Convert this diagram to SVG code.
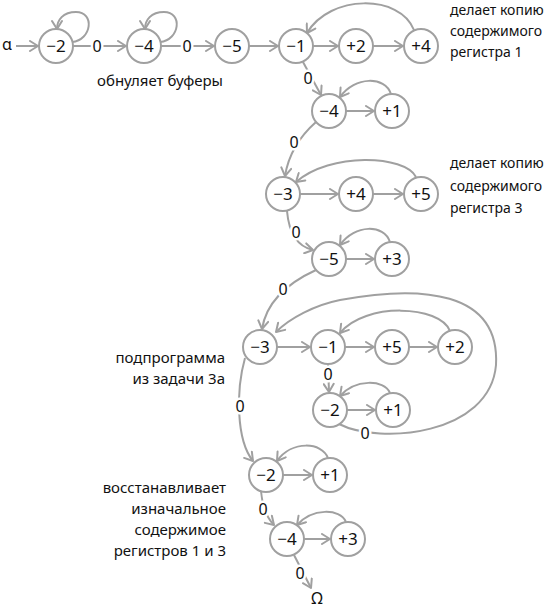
<svg xmlns="http://www.w3.org/2000/svg" width="550" height="611" viewBox="0 0 550 611">
<defs>
<style>
.n circle{fill:#fff;stroke:#a0a0a0;stroke-width:2}
.n text{font-family:"Noto Sans","DejaVu Sans",sans-serif;font-size:17px;fill:#111;text-anchor:middle}
.e path,.e line{fill:none;stroke:#a0a0a0;stroke-width:2;marker-end:url(#ah)}
.lbl{font-family:"Noto Sans","DejaVu Sans",sans-serif;font-size:16px;fill:#111;text-anchor:middle;stroke:#fff;stroke-width:5;paint-order:stroke;stroke-linejoin:round}
.t{font-family:"Noto Sans","DejaVu Sans",sans-serif;font-size:15px;fill:#111}
.r{font-size:14px}
</style>
<marker id="ah" viewBox="0 0 12 12" refX="10" refY="6" markerWidth="12" markerHeight="12" markerUnits="userSpaceOnUse" orient="auto">
<path d="M2,1 L10,6 L2,11" fill="none" stroke="#a0a0a0" stroke-width="2" stroke-linejoin="round" stroke-linecap="round"/>
</marker>
</defs>
<rect width="550" height="611" fill="#fff"/>

<g id="connectors" class="e">
<!-- row 1 -->
<line x1="16" y1="46" x2="38" y2="46"/>
<path d="M72,42 C92,40 95,12 76,12 C63,12 57,20 57,29"/>
<line x1="73" y1="46" x2="126" y2="46"/>
<path d="M160,42 C180,40 183,12 164,12 C151,12 145,20 145,29"/>
<line x1="161" y1="46" x2="214" y2="46"/>
<line x1="249" y1="46" x2="278" y2="46"/>
<line x1="313" y1="46" x2="338" y2="46"/>
<line x1="373" y1="46" x2="403" y2="46"/>
<path d="M414,30 C400,-6 330,-6 307,33"/>
<!-- row1 -> row2 -->
<line x1="303" y1="62" x2="321" y2="95"/>
<!-- row 2 -->
<line x1="346" y1="111" x2="374" y2="111"/>
<path d="M391,94 C385,76 355,76 340,97"/>
<!-- row2 -> row3 -->
<path d="M316,122 Q290,145 285,176"/>
<!-- row 3 -->
<line x1="300" y1="194" x2="338" y2="194"/>
<line x1="373" y1="194" x2="403" y2="194"/>
<path d="M416,177 C405,155 330,152 296,182"/>
<!-- row3 -> row4 -->
<path d="M287,211 Q290,245 313,250"/>
<!-- row 4 -->
<line x1="346" y1="259" x2="374" y2="259"/>
<path d="M390,242 C384,224 355,224 340,245"/>
<!-- row4 -> row5 -->
<path d="M316,270 Q268,292 262,329"/>
<!-- row 5 -->
<line x1="277" y1="347" x2="310" y2="347"/>
<line x1="345" y1="347" x2="374" y2="347"/>
<line x1="409" y1="347" x2="437" y2="347"/>
<path d="M450,331 C440,305 365,302 340,333"/>
<path d="M339,424 C380,445 490,435 496,365 C500,290 420,285 340,300 C315,305 290,318 276,332"/>
<line x1="328" y1="364" x2="329" y2="392"/>
<!-- row 6 -->
<line x1="347" y1="410" x2="375" y2="410"/>
<path d="M390,393 C384,379 355,379 340,396"/>
<!-- row5 -> row7 -->
<path d="M245,358 C236,390 236,440 253,461"/>
<!-- row 7 -->
<line x1="283" y1="475" x2="312" y2="475"/>
<path d="M328,458 C322,442 292,440 277,461"/>
<!-- row7 -> row8 -->
<path d="M261,491 Q263,514 274,525"/>
<!-- row 8 -->
<line x1="304" y1="539" x2="330" y2="539"/>
<path d="M346,522 C340,508 312,508 297,525"/>
<line x1="294" y1="555" x2="311" y2="588"/>
</g>

<g id="edge-labels">
<text class="lbl" x="97" y="52">0</text>
<text class="lbl" x="187" y="52">0</text>
<text class="lbl" x="308" y="84">0</text>
<text class="lbl" x="294" y="148">0</text>
<text class="lbl" x="296" y="238">0</text>
<text class="lbl" x="283" y="295">0</text>
<text class="lbl" x="328" y="380">0</text>
<text class="lbl" x="240" y="412">0</text>
<text class="lbl" x="365" y="439">0</text>
<text class="lbl" x="263" y="515">0</text>
<text class="lbl" x="300" y="579">0</text>
</g>

<g id="n1" class="n"><circle cx="56" cy="46" r="17"/><text x="56" y="52">−2</text></g>
<g id="n2" class="n"><circle cx="144" cy="46" r="17"/><text x="144" y="52">−4</text></g>
<g id="n3" class="n"><circle cx="232" cy="46" r="17"/><text x="232" y="52">−5</text></g>
<g id="n4" class="n"><circle cx="296" cy="46" r="17"/><text x="296" y="52">−1</text></g>
<g id="n5" class="n"><circle cx="356" cy="46" r="17"/><text x="356" y="52">+2</text></g>
<g id="n6" class="n"><circle cx="421" cy="46" r="17"/><text x="421" y="52">+4</text></g>
<g id="n7" class="n"><circle cx="329" cy="111" r="17"/><text x="329" y="117">−4</text></g>
<g id="n8" class="n"><circle cx="392" cy="111" r="17"/><text x="392" y="117">+1</text></g>
<g id="n9" class="n"><circle cx="283" cy="194" r="17"/><text x="283" y="200">−3</text></g>
<g id="n10" class="n"><circle cx="356" cy="194" r="17"/><text x="356" y="200">+4</text></g>
<g id="n11" class="n"><circle cx="421" cy="194" r="17"/><text x="421" y="200">+5</text></g>
<g id="n12" class="n"><circle cx="329" cy="259" r="17"/><text x="329" y="265">−5</text></g>
<g id="n13" class="n"><circle cx="392" cy="259" r="17"/><text x="392" y="265">+3</text></g>
<g id="n14" class="n"><circle cx="260" cy="347" r="17"/><text x="260" y="353">−3</text></g>
<g id="n15" class="n"><circle cx="328" cy="347" r="17"/><text x="328" y="353">−1</text></g>
<g id="n16" class="n"><circle cx="392" cy="347" r="17"/><text x="392" y="353">+5</text></g>
<g id="n17" class="n"><circle cx="455" cy="347" r="17"/><text x="455" y="353">+2</text></g>
<g id="n18" class="n"><circle cx="330" cy="410" r="17"/><text x="330" y="416">−2</text></g>
<g id="n19" class="n"><circle cx="393" cy="410" r="17"/><text x="393" y="416">+1</text></g>
<g id="n20" class="n"><circle cx="266" cy="475" r="17"/><text x="266" y="481">−2</text></g>
<g id="n21" class="n"><circle cx="330" cy="475" r="17"/><text x="330" y="481">+1</text></g>
<g id="n22" class="n"><circle cx="287" cy="539" r="17"/><text x="287" y="545">−4</text></g>
<g id="n23" class="n"><circle cx="348" cy="539" r="17"/><text x="348" y="545">+3</text></g>

<g id="terminals">
<text class="t" x="2" y="50" style="font-size:16px">α</text>
<text class="t" x="317" y="604" text-anchor="middle" style="font-size:16px">Ω</text>
</g>

<g id="notes">
<text class="t r" x="450" y="15">делает копию</text>
<text class="t r" x="450" y="36">содержимого</text>
<text class="t r" x="450" y="57">регистра 1</text>
<text class="t" x="160" y="86" text-anchor="middle">обнуляет буферы</text>
<text class="t r" x="450" y="168">делает копию</text>
<text class="t r" x="450" y="190.5">содержимого</text>
<text class="t r" x="450" y="213">регистра 3</text>
<text class="t" x="225" y="363" text-anchor="end">подпрограмма</text>
<text class="t" x="225" y="384" text-anchor="end">из задачи 3а</text>
<text class="t" x="226" y="493" text-anchor="end">восстанавливает</text>
<text class="t" x="226" y="514" text-anchor="end">изначальное</text>
<text class="t" x="226" y="535" text-anchor="end">содержимое</text>
<text class="t" x="226" y="556" text-anchor="end">регистров 1 и 3</text>
</g>
</svg>
